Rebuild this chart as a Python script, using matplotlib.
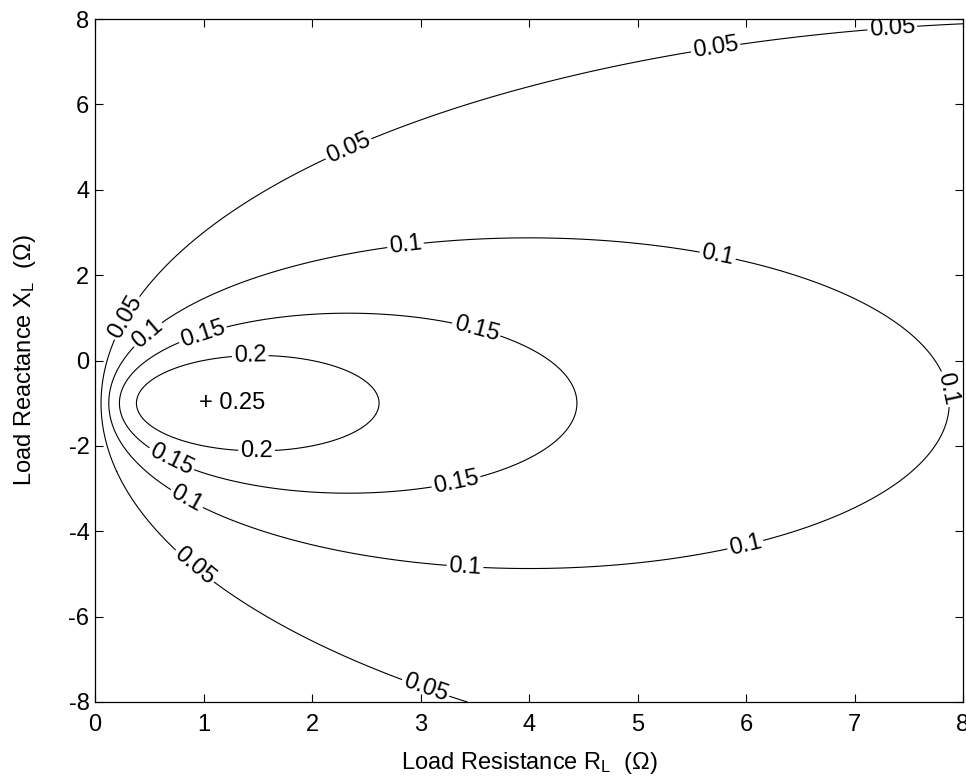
import numpy as np
import matplotlib
matplotlib.use("Agg")
import matplotlib.pyplot as plt

plt.rcParams['font.family'] = ['Liberation Sans', 'DejaVu Sans']
plt.rcParams['mathtext.default'] = 'regular'
plt.rcParams['axes.unicode_minus'] = False

# source: V = 1, Zs = Rs + jXs, max power at RL = Rs, XL = -Xs
V = 1.0
Rs = 1.0
Xs = 1.0
levels = [0.05, 0.1, 0.15, 0.2]
peak_label = '+ 0.25'

# label positions (data coords)
label_pos = [
    (7.35, 7.74), (5.74, 6.99), (2.35, 4.88), (0.29, 1.0), (0.78, -5.24), (3.04, -7.72),
    (2.86, 2.73), (5.74, 2.47), (0.53, 0.48), (7.81, -0.69), (0.88, -3.08), (3.41, -4.86), (5.94, -3.74),
    (1.01, 0.48), (3.5, 0.6), (0.67, -2.5), (3.32, -2.75),
    (1.43, 0.18), (1.49, -2.07),
]

RL = np.linspace(0, 8, 801)
XL = np.linspace(-8, 8, 1601)
R, X = np.meshgrid(RL, XL)
P = V**2 * R / ((Rs + R)**2 + (Xs + X)**2)

fs = 17
fig = plt.figure(figsize=(9.66, 7.8), dpi=100)
ax = fig.add_axes([95/966, 1 - 702/780, 868/966, 683/780])

cs = ax.contour(R, X, P, levels=levels, colors='k', linewidths=0.8)
ax.clabel(cs, manual=label_pos, fontsize=fs, inline=True, inline_spacing=2, fmt='%g')
ax.text(Rs - 0.045, -Xs, peak_label, fontsize=fs, ha='left', va='center')

ax.set_xlim(0, 8)
ax.set_ylim(-8, 8)
ax.set_xticks(range(0, 9))
ax.set_yticks(range(-8, 9, 2))
ax.tick_params(direction='in', length=6, width=0.8, top=True, right=True, labelsize=fs)
ax.tick_params(axis='x', pad=8.5)
ax.tick_params(axis='y', pad=4)
for s in ax.spines.values():
    s.set_linewidth(0.9)
ax.set_xlabel('Load Resistance R$_L$  (Ω)', fontsize=fs, labelpad=10)
ax.set_ylabel('Load Reactance X$_L$  (Ω)', fontsize=fs, labelpad=22)

fig.savefig('out.png', dpi=100)
